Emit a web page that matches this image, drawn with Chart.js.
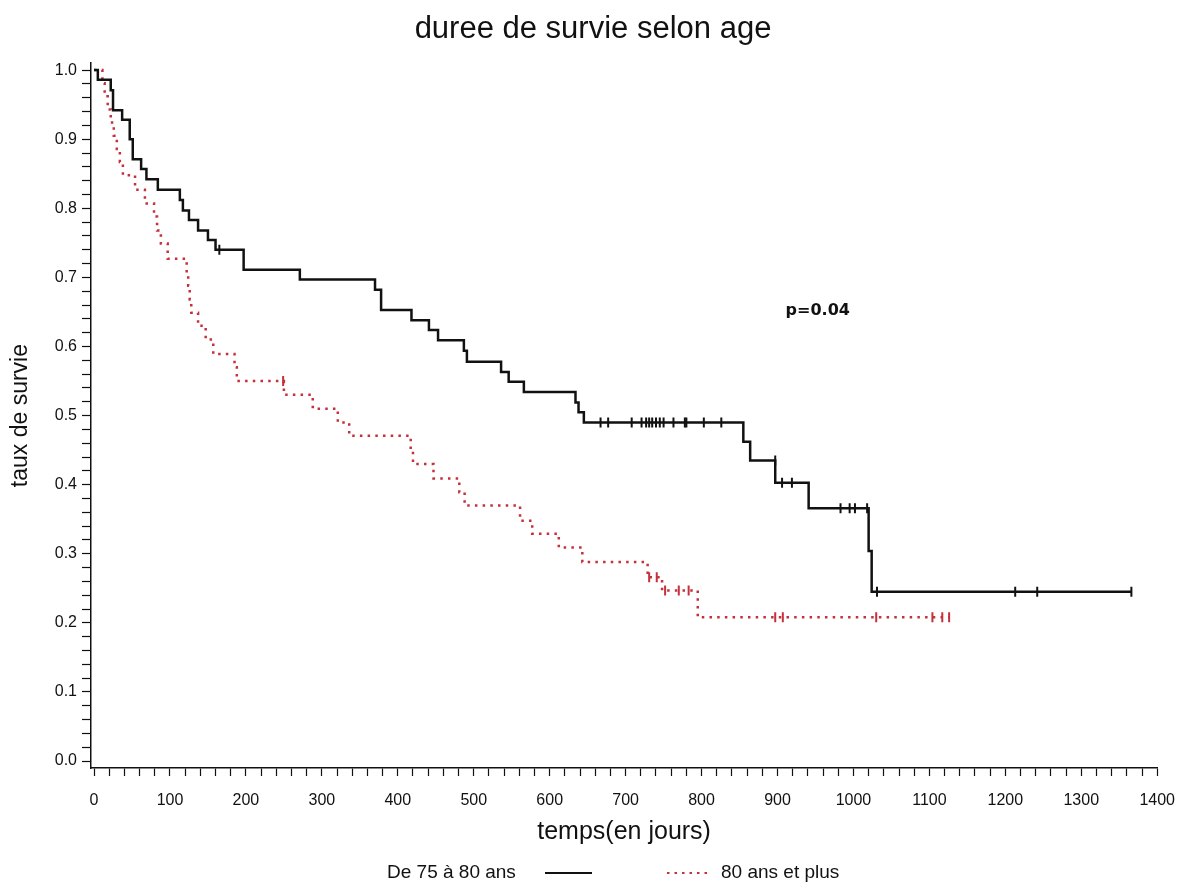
<!DOCTYPE html>
<html>
<head>
<meta charset="utf-8">
<script src="https://cdn.jsdelivr.net/npm/chart.js@4"></script>
<style>
  html, body { margin: 0; background: #fff; }
  #wrap { width: 1190px; height: 895px; }
</style>
</head>
<body>
<div id="wrap"><canvas id="survChart" width="1190" height="895"></canvas></div>
<script>
// Kaplan-Meier steps (time in days, survival after the step)
const seriesNames = ['De 75 à 80 ans', '80 ans et plus'];

const blackTimes = [0, 5, 22, 25, 37, 47, 51, 62, 69, 84, 113, 117, 125, 137, 150, 160, 197, 271, 370, 378,
    418, 441, 453, 487, 491, 536, 546, 566, 634, 638, 645, 855, 864, 897, 941, 1020, 1024, 1366];
const blackSurv = [1.0, 0.986, 0.971, 0.942, 0.928, 0.900, 0.871, 0.857, 0.842, 0.827, 0.812, 0.797, 0.783, 0.768, 0.754, 0.740, 0.711, 0.697, 0.682, 0.653,
    0.638, 0.624, 0.609, 0.594, 0.578, 0.563, 0.549, 0.534, 0.519, 0.505, 0.490, 0.462, 0.435, 0.403, 0.366, 0.304, 0.245, 0.245];
const blackCensorTimes = [165, 667, 677, 708, 721, 727, 731, 735, 740, 745, 750, 763, 778, 780, 803, 826,
    897, 906, 919, 983, 995, 1002, 1018, 1031, 1213, 1242, 1366];
const blackCensorSurv = [0.740, 0.490, 0.490, 0.490, 0.490, 0.490, 0.490, 0.490, 0.490, 0.490, 0.490, 0.490, 0.490, 0.490, 0.490, 0.490,
    0.435, 0.403, 0.403, 0.366, 0.366, 0.366, 0.366, 0.245, 0.245, 0.245, 0.245];

const redTimes = [0, 11, 14, 18, 22, 26, 30, 34, 38, 54, 67, 79, 83, 88, 97, 122, 124, 126, 128, 137,
    147, 157, 185, 188, 250, 288, 321, 336, 417, 420, 447, 481, 488, 561, 577, 612, 643, 729, 748, 795, 1126];
const redSurv = [1.0, 0.981, 0.962, 0.943, 0.924, 0.905, 0.886, 0.867, 0.848, 0.827, 0.807, 0.788, 0.768, 0.749, 0.727, 0.707, 0.688, 0.668, 0.649, 0.630,
    0.610, 0.589, 0.570, 0.550, 0.530, 0.510, 0.490, 0.471, 0.450, 0.430, 0.409, 0.389, 0.370, 0.348, 0.329, 0.309, 0.288, 0.266, 0.247, 0.208, 0.208];
const redCensorTimes = [249, 731, 741, 752, 770, 783, 897, 907, 1030, 1104, 1117, 1126];
const redCensorSurv = [0.550, 0.266, 0.266, 0.247, 0.247, 0.247, 0.208, 0.208, 0.208, 0.208, 0.208, 0.208];

const xLabelTicks = [0, 100, 200, 300, 400, 500, 600, 700, 800, 900, 1000, 1100, 1200, 1300, 1400];
const yLabelTicks = [0.0, 0.1, 0.2, 0.3, 0.4, 0.5, 0.6, 0.7, 0.8, 0.9, 1.0];

const pValueText = 'p=0.04';
const pValuePos = [953, 0.651];

const BLACK = '#111111';
const RED = '#c4303c';

function toPoints(xs, ys) {
    return xs.map((x, i) => ({ x: x, y: ys[i] }));
}

// minor ticks every 20 days / 0.02
const xTickValues = [];
for (let v = 0; v <= 1400; v += 20) xTickValues.push(v);
const yTickValues = [];
for (let i = 0; i <= 50; i++) yTickValues.push(Math.round(i * 2) / 100);

const extras = {
    id: 'extras',
    afterDraw(chart) {
        const ctx = chart.ctx;
        const xs = chart.scales.x, ys = chart.scales.y;
        ctx.save();
        ctx.fillStyle = BLACK;
        ctx.textBaseline = 'middle';
        ctx.textAlign = 'center';
        ctx.font = 'bold 16px "DejaVu Sans"';
        ctx.fillText(pValueText, xs.getPixelForValue(pValuePos[0]), ys.getPixelForValue(pValuePos[1]));

        // legend: text then line, then dotted line then text
        const ly = 873;
        ctx.font = '19px "Liberation Sans"';
        ctx.textAlign = 'left';
        ctx.fillText(seriesNames[0], 387, ly);
        ctx.strokeStyle = BLACK;
        ctx.lineWidth = 2;
        ctx.beginPath();
        ctx.moveTo(545, ly);
        ctx.lineTo(592, ly);
        ctx.stroke();
        ctx.strokeStyle = RED;
        ctx.setLineDash([2.5, 5]);
        ctx.beginPath();
        ctx.moveTo(667, ly);
        ctx.lineTo(712, ly);
        ctx.stroke();
        ctx.setLineDash([]);
        ctx.fillText(seriesNames[1], 721, ly);
        ctx.restore();
    }
};

Chart.defaults.font.family = '"Liberation Sans", Arial, sans-serif';
Chart.defaults.color = BLACK;

const ctx = document.getElementById('survChart').getContext('2d');
new Chart(ctx, {
    type: 'scatter',
    data: {
        datasets: [{
            label: seriesNames[0],
            data: toPoints(blackTimes, blackSurv),
            showLine: true,
            stepped: 'before',
            borderColor: BLACK,
            borderWidth: 2.5,
            pointRadius: 0
        }, {
            label: seriesNames[1],
            data: toPoints(redTimes, redSurv),
            showLine: true,
            stepped: 'before',
            borderColor: RED,
            borderWidth: 2.5,
            borderDash: [2.5, 5.2],
            borderCapStyle: 'butt',
            pointRadius: 0
        }, {
            label: 'censor1',
            data: toPoints(blackCensorTimes, blackCensorSurv),
            pointStyle: 'line',
            rotation: 90,
            pointRadius: 5,
            pointBorderWidth: 2,
            borderColor: BLACK,
            backgroundColor: BLACK
        }, {
            label: 'censor2',
            data: toPoints(redCensorTimes, redCensorSurv),
            pointStyle: 'line',
            rotation: 90,
            pointRadius: 5,
            pointBorderWidth: 2,
            borderColor: RED,
            backgroundColor: RED
        }]
    },
    options: {
        responsive: false,
        devicePixelRatio: 1,
        animation: false,
        events: [],
        layout: { padding: { left: 0, right: 4, top: 0, bottom: 40 } },
        scales: {
            x: {
                type: 'linear',
                min: -4,
                max: 1400,
                afterBuildTicks: s => { s.ticks = xTickValues.map(v => ({ value: v })); },
                afterFit: s => { s.height = 87; },
                ticks: {
                    autoSkip: false,
                    maxRotation: 0,
                    padding: 15,
                    color: BLACK,
                    font: { size: 16 },
                    callback: v => xLabelTicks.includes(v) ? String(v) : ''
                },
                grid: { drawOnChartArea: false, tickLength: 8, color: BLACK, tickWidth: 1.2 },
                border: { color: BLACK, width: 1.5 },
                title: {
                    display: true,
                    text: 'temps(en jours)',
                    color: BLACK,
                    font: { size: 25 },
                    padding: { top: 4, bottom: 8 }
                }
            },
            y: {
                type: 'linear',
                min: -0.01,
                max: 1.01,
                afterBuildTicks: s => { s.ticks = yTickValues.map(v => ({ value: v })); },
                afterFit: s => { s.width = 91; },
                ticks: {
                    autoSkip: false,
                    padding: 5,
                    color: BLACK,
                    font: { size: 16 },
                    callback: v => {
                        const hit = yLabelTicks.find(t => Math.abs(t - v) < 1e-6);
                        return hit === undefined ? '' : hit.toFixed(1);
                    }
                },
                grid: { drawOnChartArea: false, tickLength: 9, color: BLACK, tickWidth: 1.2 },
                border: { color: BLACK, width: 1.5 },
                title: {
                    display: true,
                    text: 'taux de survie',
                    color: BLACK,
                    font: { size: 23 },
                    padding: { top: 7, bottom: 0 }
                }
            },
            // empty right-hand spacer so the plot ends at the same place as the reference
            spacer: {
                type: 'linear',
                position: 'right',
                display: true,
                afterFit: s => { s.width = 26; },
                ticks: { display: false },
                grid: { display: false, drawTicks: false },
                border: { display: false }
            }
        },
        plugins: {
            legend: { display: false },
            tooltip: { enabled: false },
            title: {
                display: true,
                text: 'duree de survie selon age',
                color: BLACK,
                font: { size: 31, weight: 'normal' },
                padding: { top: 11, bottom: 15 }
            }
        }
    },
    plugins: [extras]
});
</script>
</body>
</html>
